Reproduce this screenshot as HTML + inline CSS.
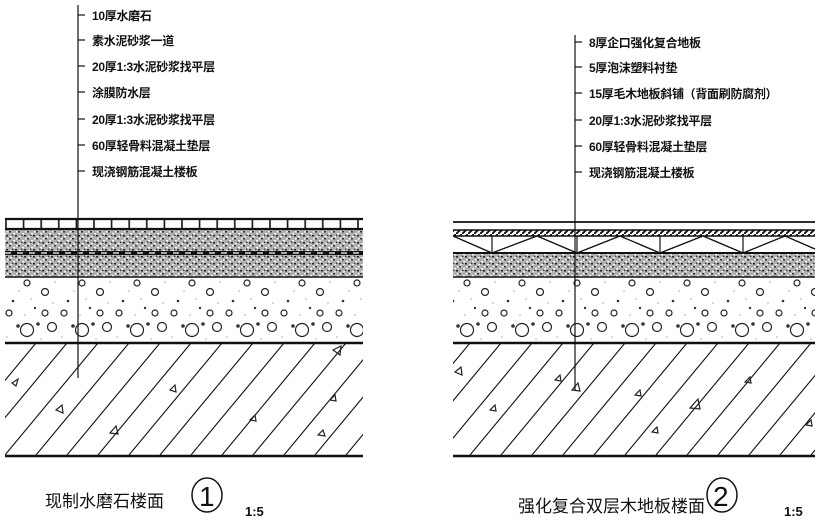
<!DOCTYPE html>
<html><head><meta charset="utf-8">
<style>
html,body{margin:0;padding:0;background:#fff;}
svg{display:block;}
.t{font-family:"Liberation Sans","Noto Sans CJK SC",sans-serif;font-size:12px;font-weight:bold;fill:#111;letter-spacing:-0.3px;}
.c{font-family:"Liberation Sans","Noto Sans CJK SC",sans-serif;font-size:17px;fill:#111;}
</style></head><body>
<svg width="822" height="525" viewBox="0 0 822 525" xmlns="http://www.w3.org/2000/svg">
<defs>
<pattern id="mort" width="9" height="7" patternUnits="userSpaceOnUse">
<rect width="9" height="7" fill="#b0b0b0"/>
<rect x="0" y="0" width="2" height="1.5" fill="#333"/>
<rect x="4" y="2" width="2" height="1.5" fill="#fff"/>
<rect x="6" y="4" width="2" height="1.5" fill="#222"/>
<rect x="1" y="5" width="2" height="1.5" fill="#eee"/>
<rect x="7" y="0" width="1.5" height="1.5" fill="#fff"/>
<rect x="3" y="3.5" width="1.5" height="1.5" fill="#444"/>
</pattern>
<pattern id="conc" x="5" y="277" width="55" height="66" patternUnits="userSpaceOnUse">
<g fill="none" stroke="#222" stroke-width="1.2">
<circle cx="22" cy="6" r="3"/><circle cx="40" cy="15" r="3.5"/>
<circle cx="4" cy="36" r="3"/><circle cx="40" cy="36" r="3"/>
<circle cx="47" cy="50" r="4.5"/><circle cx="22" cy="53" r="6.5"/>
</g>
<g fill="#333"><circle cx="8" cy="24" r="1.3"/><circle cx="30" cy="31" r="1.2"/><circle cx="33" cy="47" r="1.8"/><circle cx="13" cy="49" r="1.8"/></g>
<g fill="#aaa"><circle cx="14" cy="14" r="0.8"/><circle cx="48" cy="26" r="0.8"/><circle cx="20" cy="38" r="0.8"/><circle cx="2" cy="60" r="0.8"/><circle cx="50" cy="5" r="0.8"/><circle cx="26" cy="22" r="0.8"/><circle cx="36" cy="62" r="0.8"/></g>
</pattern>
<pattern id="hatch" x="5" y="343" width="31" height="112" patternUnits="userSpaceOnUse">
<line x1="-93" y1="112" x2="0" y2="0" stroke="#111" stroke-width="1.1"/>
<line x1="-62" y1="112" x2="31" y2="0" stroke="#111" stroke-width="1.1"/>
<line x1="-31" y1="112" x2="62" y2="0" stroke="#111" stroke-width="1.1"/>
<line x1="0" y1="112" x2="93" y2="0" stroke="#111" stroke-width="1.1"/>
<line x1="31" y1="112" x2="124" y2="0" stroke="#111" stroke-width="1.1"/>
</pattern>
<pattern id="stripe" width="6" height="6" patternUnits="userSpaceOnUse">
<rect width="6" height="6" fill="#fff"/><line x1="0" y1="6" x2="6" y2="0" stroke="#111" stroke-width="2"/>
</pattern>
<pattern id="tile" x="5" y="219" width="17.6" height="10" patternUnits="userSpaceOnUse">
<line x1="1" y1="0" x2="1" y2="10" stroke="#111" stroke-width="1.6"/>
</pattern>
</defs>

<!-- LEFT -->
<rect x="5" y="219" width="358" height="10" fill="#fff"/>
<rect x="5" y="219" width="358" height="10" fill="url(#tile)"/>
<line x1="5" y1="219" x2="363" y2="219" stroke="#111" stroke-width="2.2"/>
<rect x="5" y="229" width="358" height="48" fill="url(#mort)"/>
<line x1="5" y1="229" x2="363" y2="229" stroke="#111" stroke-width="2.2"/>
<line x1="5" y1="253" x2="363" y2="253" stroke="#111" stroke-width="4"/>
<line x1="5" y1="253" x2="363" y2="253" stroke="#fff" stroke-width="1.2" stroke-dasharray="6 6"/>
<rect x="5" y="277" width="358" height="66" fill="url(#conc)"/>
<line x1="5" y1="277" x2="363" y2="277" stroke="#111" stroke-width="1.5"/>
<rect x="5" y="343" width="358" height="112" fill="url(#hatch)"/>
<line x1="5" y1="343" x2="363" y2="343" stroke="#111" stroke-width="2.5"/>
<line x1="5" y1="456" x2="363" y2="456" stroke="#111" stroke-width="2.5"/>
<g fill="none" stroke="#222" stroke-width="1.2">
<path d="M12 383 l6 -4 l-2 7z"/><path d="M56 410 l6 -5 l1 8z"/><path d="M110 433 l6 -7 l2 8z"/><path d="M170 390 l5 -5 l1 7z"/><path d="M250 420 l5 -5 l1 6z"/><path d="M330 400 l5 -5 l1 6z"/><path d="M333 350 l8 -4 l-1 9z"/><path d="M318 435 l5 -5 l2 6z"/>
</g>
<line x1="78" y1="5" x2="78" y2="378" stroke="#111" stroke-width="1.2"/>
<g stroke="#111" stroke-width="1.2">
<line x1="78" y1="15" x2="85" y2="15"/><line x1="78" y1="40" x2="85" y2="40"/><line x1="78" y1="66" x2="85" y2="66"/><line x1="78" y1="92" x2="85" y2="92"/><line x1="78" y1="119" x2="85" y2="119"/><line x1="78" y1="145" x2="85" y2="145"/><line x1="78" y1="171" x2="85" y2="171"/>
</g>
<text class="t" x="92" y="20">10厚水磨石</text>
<text class="t" x="92" y="45">素水泥砂浆一道</text>
<text class="t" x="92" y="71">20厚1:3水泥砂浆找平层</text>
<text class="t" x="92" y="97">涂膜防水层</text>
<text class="t" x="92" y="124">20厚1:3水泥砂浆找平层</text>
<text class="t" x="92" y="150">60厚轻骨料混凝土垫层</text>
<text class="t" x="92" y="176">现浇钢筋混凝土楼板</text>
<text class="c" x="45" y="507">现制水磨石楼面</text>
<ellipse cx="207" cy="495" rx="15" ry="17" fill="none" stroke="#111" stroke-width="1.5"/>
<text x="199" y="506" style="font-family:'Liberation Sans',sans-serif;font-size:28px;font-weight:300;fill:#111">1</text>
<text x="245" y="516" style="font-family:'Liberation Sans',sans-serif;font-size:13px;font-weight:bold;fill:#111">1:5</text>

<!-- RIGHT -->
<line x1="453" y1="222" x2="815" y2="222" stroke="#111" stroke-width="1.8"/>
<rect x="453" y="230" width="362" height="6" fill="url(#stripe)"/>
<line x1="453" y1="230" x2="815" y2="230" stroke="#111" stroke-width="1.5"/>
<line x1="453" y1="236" x2="815" y2="236" stroke="#111" stroke-width="1.5"/>
<polyline points="453,236 492,253 537,236 577,253 620,236 660,253 703,236 743,253 785,236 815,249" fill="none" stroke="#111" stroke-width="1.3"/>
<g stroke="#111" stroke-width="1.2"><line x1="492" y1="236" x2="492" y2="253"/><line x1="577" y1="236" x2="577" y2="253"/><line x1="660" y1="236" x2="660" y2="253"/><line x1="743" y1="236" x2="743" y2="253"/></g>
<rect x="453" y="253" width="362" height="24" fill="url(#mort)"/>
<line x1="453" y1="253" x2="815" y2="253" stroke="#111" stroke-width="2"/>
<rect x="453" y="277" width="362" height="66" fill="url(#conc)"/>
<line x1="453" y1="277" x2="815" y2="277" stroke="#111" stroke-width="1.5"/>
<rect x="453" y="343" width="362" height="112" fill="url(#hatch)"/>
<line x1="453" y1="343" x2="815" y2="343" stroke="#111" stroke-width="2.5"/>
<line x1="453" y1="456" x2="815" y2="456" stroke="#111" stroke-width="2.5"/>
<g fill="none" stroke="#222" stroke-width="1.2">
<path d="M455 372 l6 -5 l1 8z"/><path d="M490 410 l5 -5 l1 6z"/><path d="M555 380 l5 -5 l1 6z"/><path d="M572 390 l6 -7 l2 8z"/><path d="M635 395 l5 -5 l1 6z"/><path d="M690 408 l8 -9 l2 10z"/><path d="M652 432 l5 -5 l1 6z"/><path d="M745 382 l5 -5 l1 6z"/><path d="M806 425 l5 -5 l1 6z"/>
</g>
<line x1="575" y1="35" x2="575" y2="390" stroke="#111" stroke-width="1.2"/>
<g stroke="#111" stroke-width="1.2">
<line x1="575" y1="42" x2="582" y2="42"/><line x1="575" y1="67" x2="582" y2="67"/><line x1="575" y1="93" x2="582" y2="93"/><line x1="575" y1="120" x2="582" y2="120"/><line x1="575" y1="146" x2="582" y2="146"/><line x1="575" y1="172" x2="582" y2="172"/>
</g>
<text class="t" x="589" y="47">8厚企口强化复合地板</text>
<text class="t" x="589" y="72">5厚泡沫塑料衬垫</text>
<text class="t" x="589" y="98">15厚毛木地板斜铺（背面刷防腐剂）</text>
<text class="t" x="589" y="125">20厚1:3水泥砂浆找平层</text>
<text class="t" x="589" y="151">60厚轻骨料混凝土垫层</text>
<text class="t" x="589" y="177">现浇钢筋混凝土楼板</text>
<text class="c" x="518" y="512">强化复合双层木地板楼面</text>
<ellipse cx="722" cy="495" rx="15" ry="17" fill="none" stroke="#111" stroke-width="1.5"/>
<text x="713" y="506" style="font-family:'Liberation Sans',sans-serif;font-size:28px;font-weight:300;fill:#111">2</text>
<text x="784" y="516" style="font-family:'Liberation Sans',sans-serif;font-size:13px;font-weight:bold;fill:#111">1:5</text>
</svg>
</body></html>
